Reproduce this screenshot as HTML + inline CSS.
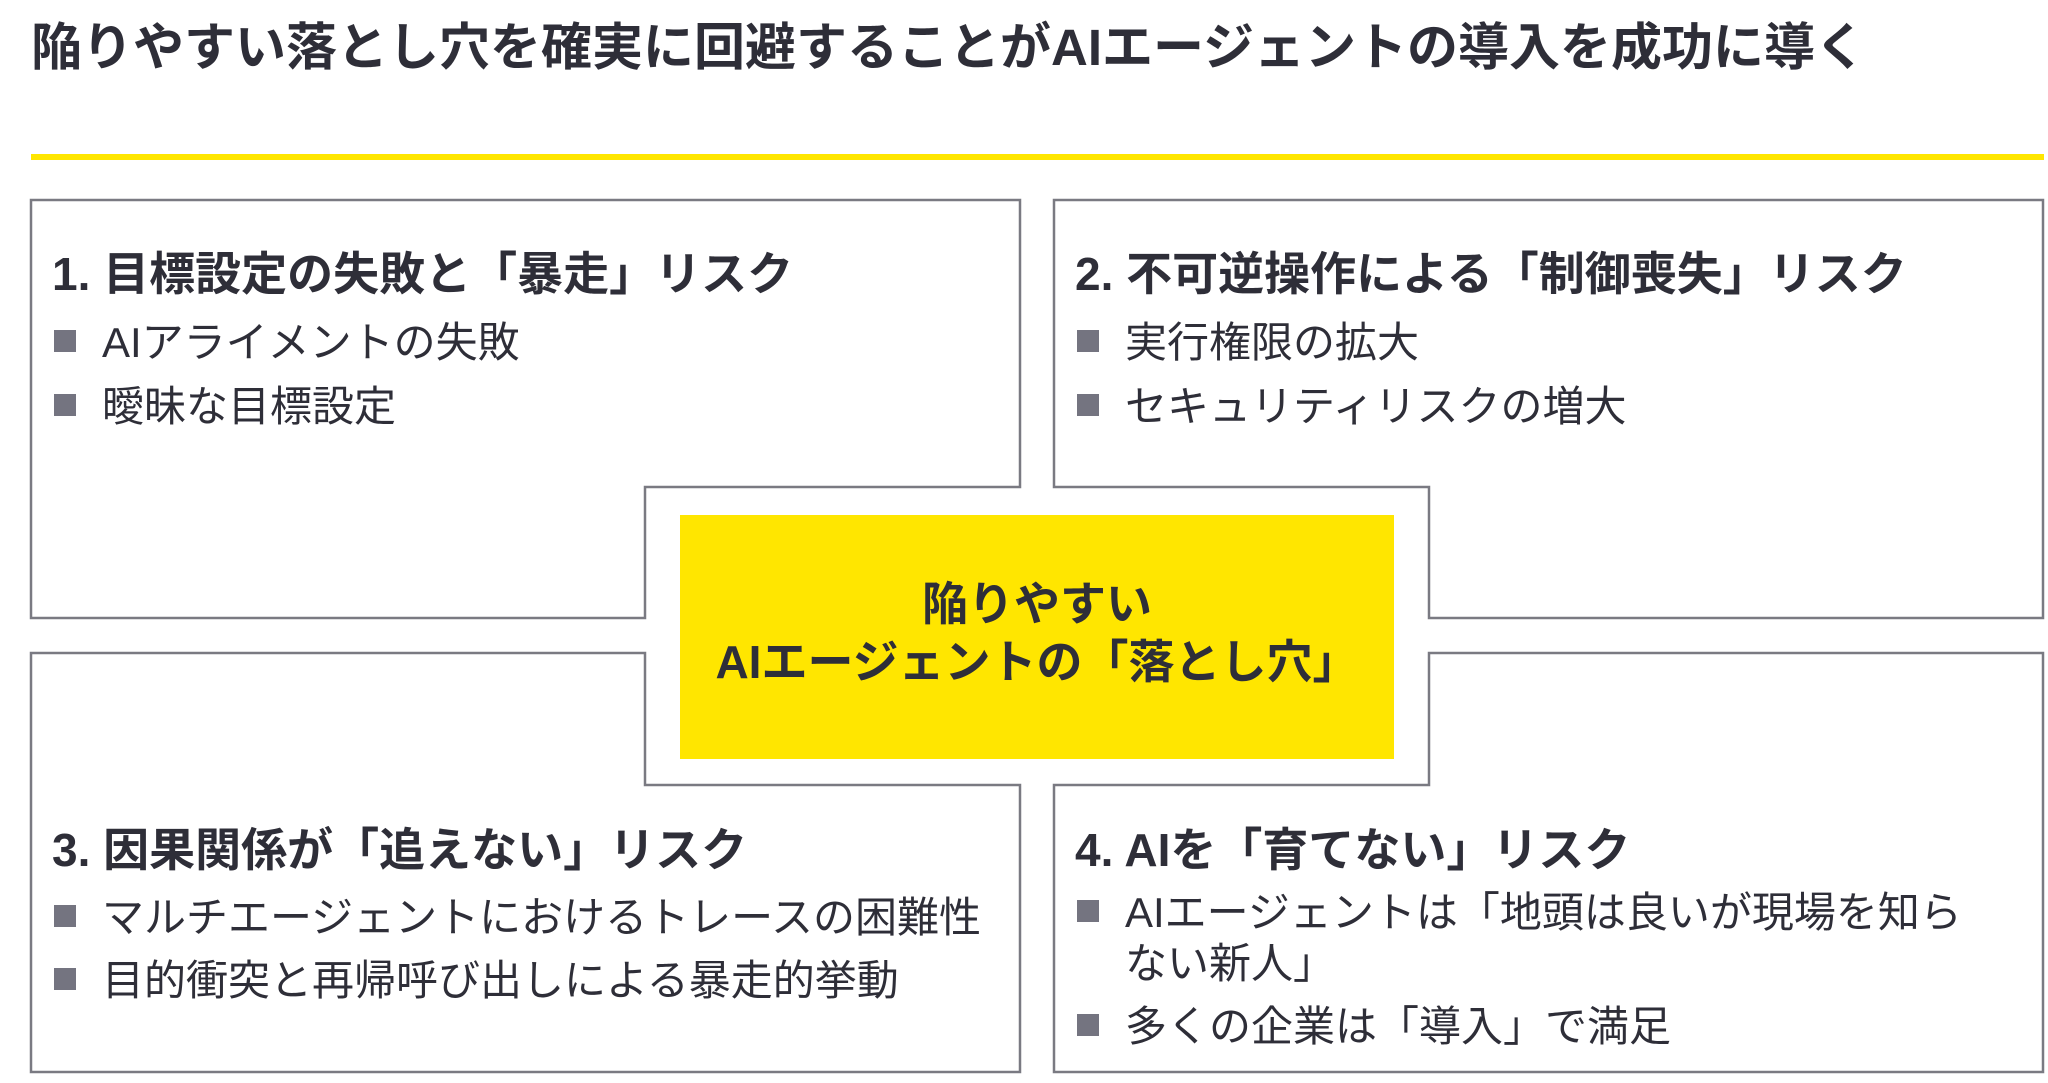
<!DOCTYPE html>
<html><head><meta charset="utf-8"><style>
body{margin:0;width:2048px;height:1083px;background:#fff;position:relative;overflow:hidden;font-family:"Liberation Sans","Noto Sans CJK JP",sans-serif;color:#2e2e38}
.t{position:absolute;white-space:nowrap;line-height:1}
.h{font-weight:bold;font-size:46px}
.b{font-size:42px;color:#2e2e38}
.sq{display:inline-block;width:22px;height:22px;background:#747480;margin-right:26px;vertical-align:5px}
</style></head><body>
<svg width="2048" height="1083" style="position:absolute;left:0;top:0">
<rect x="31" y="154" width="2013" height="6" fill="#ffe600"/>
<g fill="none" stroke="#7a7a82" stroke-width="2.5">
<polygon points="31,200 1020,200 1020,487 645,487 645,618 31,618"/>
<polygon points="1054,200 2043,200 2043,618 1429,618 1429,487 1054,487"/>
<polygon points="31,653 645,653 645,785 1020,785 1020,1072 31,1072"/>
<polygon points="1429,653 2043,653 2043,1072 1054,1072 1054,785 1429,785"/>
</g>
<rect x="680" y="515" width="714" height="244" fill="#ffe600"/>
</svg>
<div class="t" style="left:31px;top:22px;font-size:51px;font-weight:bold">陥りやすい落とし穴を確実に回避することがAIエージェントの導入を成功に導く</div>

<div class="t h" style="left:52px;top:251px">1. 目標設定の失敗と「暴走」リスク</div>
<div class="t b" style="left:54px;top:322px"><span class="sq"></span>AIアライメントの失敗</div>
<div class="t b" style="left:54px;top:386px"><span class="sq"></span>曖昧な目標設定</div>

<div class="t h" style="left:1075px;top:251px">2. 不可逆操作による「制御喪失」リスク</div>
<div class="t b" style="left:1077px;top:322px"><span class="sq"></span>実行権限の拡大</div>
<div class="t b" style="left:1077px;top:386px"><span class="sq"></span>セキュリティリスクの増大</div>

<div class="t h" style="left:52px;top:827px">3. 因果関係が「追えない」リスク</div>
<div class="t b" style="left:54px;top:897px"><span class="sq"></span>マルチエージェントにおけるトレースの困難性</div>
<div class="t b" style="left:54px;top:960px"><span class="sq"></span>目的衝突と再帰呼び出しによる暴走的挙動</div>

<div class="t h" style="left:1075px;top:827px">4. AIを「育てない」リスク</div>
<div class="t b" style="left:1077px;top:892px"><span class="sq"></span>AIエージェントは「地頭は良いが現場を知ら</div>
<div class="t b" style="left:1125px;top:943px">ない新人」</div>
<div class="t b" style="left:1077px;top:1006px"><span class="sq"></span>多くの企業は「導入」で満足</div>

<div class="t" style="left:680px;width:714px;top:575px;text-align:center;font-weight:bold;font-size:46px;line-height:58px">陥りやすい<br>AIエージェントの「落とし穴」</div>
</body></html>
